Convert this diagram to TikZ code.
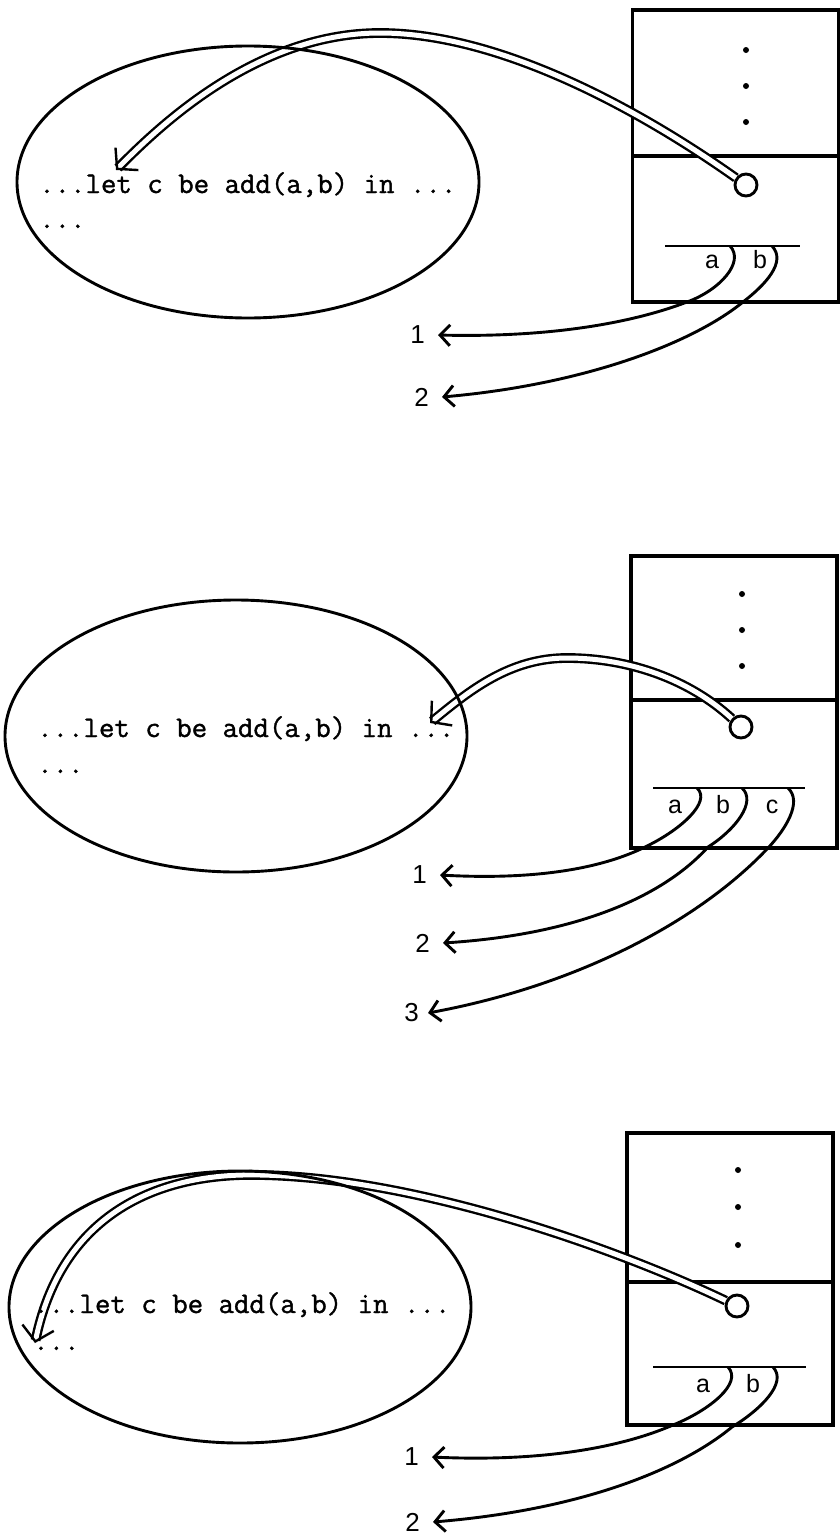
\documentclass[tikz,border=0pt]{standalone}
\usepackage{fontspec}
\setsansfont{Liberation Sans}
\newfontfamily\codefont{Latin Modern Mono}[FakeBold=1.2]
\usepackage{tikz}
\usetikzlibrary{shapes.geometric, arrows.meta, positioning}

\begin{document}
\begin{tikzpicture}[x=1pt, y=-1pt,
    prog/.style={draw, ellipse, line width=2.9pt, minimum width=462pt, minimum height=272pt, inner sep=0pt},
    code/.style={anchor=base west, inner sep=0pt, font=\fontsize{30pt}{36pt}\selectfont\codefont},
    cell/.style={draw, line width=3.1pt, minimum width=206pt, inner sep=0pt},
    ring/.style={draw, circle, fill=white, line width=2.9pt, minimum size=22pt, inner sep=0pt},
    var/.style={anchor=base, inner sep=0pt, font=\fontsize{25pt}{30pt}\selectfont\sffamily},
    num/.style={inner sep=0pt, font=\fontsize{26pt}{30pt}\selectfont\sffamily},
    link/.style={double, line width=2.4pt, double distance=5pt, -{Straight Barb[length=14pt, width=32pt]}},
    arr/.style={line width=2.9pt, -{Straight Barb[length=10pt, width=21pt]}}]
    \useasboundingbox (0,0) rectangle (840,1540);

    % first panel
    \node[cell, minimum height=146pt] (top1) at (735.5,83) {};
    \node[cell, minimum height=146pt] (env1) at (735.5,229) {};
    \foreach \y in {50,86,122} \fill (746,\y) circle (3pt);
    \node[ring] (c1) at (746,185) {};
    \coordinate (p1) at (116,170);
    \draw[link] (c1) .. controls (640,110) and (500,33) .. (380,33) .. controls (260,33) and (165,120) .. (p1);
    \node[prog] (prog1) at (248,182) {};
    \node[code] (txt1) at (39,193) {...let c be add(a,b) in ...};
    \node[code] (more1) at (39,228) {...};
    \draw[line width=2.9pt] (665,246) -- (800,246);
    \coordinate (sa1) at (730,246);
    \coordinate (sb1) at (772,246);
    \coordinate (t11) at (438,335);
    \coordinate (t12) at (442,397);
    \node[var] (va1) at (712,268) {a};
    \node[var] (vb1) at (760,268) {b};
    \node[num, left=13pt of t11] (n11) {1};
    \node[num, left=13pt of t12] (n12) {2};
    \draw[arr] (sa1) .. controls (745,262) and (720,290) .. (687,302) .. controls (640,320) and (560,338) .. (t11);
    \draw[arr] (sb1) .. controls (787,262) and (765,285) .. (743,302) .. controls (690,345) and (580,385) .. (t12);

    % second panel
    \node[cell, minimum height=144pt] (top2) at (734,628) {};
    \node[cell, minimum height=148pt] (env2) at (734,774) {};
    \foreach \y in {594,630,666} \fill (742,\y) circle (3pt);
    \node[ring] (c2) at (741,727) {};
    \coordinate (p2) at (430,723);
    \draw[link] (c2) .. controls (690,680) and (630,658) .. (567,658) .. controls (510,658) and (470,690) .. (p2);
    \node[prog] (prog2) at (236,736) {};
    \node[code] (txt2) at (37,737) {...let c be add(a,b) in ...};
    \node[code] (more2) at (37,773) {...};
    \draw[line width=2.9pt] (653,788) -- (805,788);
    \coordinate (sa2) at (697,788);
    \coordinate (sb2) at (742,788);
    \coordinate (sc2) at (788,788);
    \coordinate (t21) at (440,875);
    \coordinate (t22) at (443,943);
    \coordinate (t23) at (428,1013);
    \node[var] (va2) at (675,813) {a};
    \node[var] (vb2) at (723,813) {b};
    \node[var] (vc2) at (772,813) {c};
    \node[num, left=13pt of t21] (n21) {1};
    \node[num, left=13pt of t22] (n22) {2};
    \node[num, left=9pt of t23] (n23) {3};
    \draw[arr] (sa2) .. controls (712,802) and (680,830) .. (647,846) .. controls (600,870) and (530,880) .. (t21);
    \draw[arr] (sb2) .. controls (757,802) and (735,830) .. (708,847) .. controls (660,900) and (570,935) .. (t22);
    \draw[arr] (sc2) .. controls (803,802) and (785,830) .. (768,848) .. controls (700,920) and (580,985) .. (t23);

    % third panel
    \node[cell, minimum height=149pt] (top3) at (730,1207.5) {};
    \node[cell, minimum height=143pt] (env3) at (730,1353.5) {};
    \foreach \y in {1170,1207,1245} \fill (738,\y) circle (3pt);
    \node[ring] (c3) at (737,1306) {};
    \coordinate (p3) at (35,1343);
    \draw[link] (c3) .. controls (620,1250) and (420,1178) .. (261,1175) .. controls (150,1172) and (60,1220) .. (p3);
    \node[prog] (prog3) at (240,1307) {};
    \node[code] (txt3) at (33,1313) {...let c be add(a,b) in ...};
    \node[code] (more3) at (33,1350) {...};
    \draw[line width=2.9pt] (653,1367) -- (806,1367);
    \coordinate (sa3) at (728,1367);
    \coordinate (sb3) at (773,1367);
    \coordinate (t31) at (432,1457);
    \coordinate (t32) at (433,1522);
    \node[var] (va3) at (703,1392) {a};
    \node[var] (vb3) at (753,1392) {b};
    \node[num, left=13pt of t31] (n31) {1};
    \node[num, left=13pt of t32] (n32) {2};
    \draw[arr] (sa3) .. controls (743,1383) and (710,1410) .. (673,1425) .. controls (620,1448) and (540,1462) .. (t31);
    \draw[arr] (sb3) .. controls (788,1383) and (760,1410) .. (732,1427) .. controls (680,1470) and (580,1510) .. (t32);
\end{tikzpicture}
\end{document}
